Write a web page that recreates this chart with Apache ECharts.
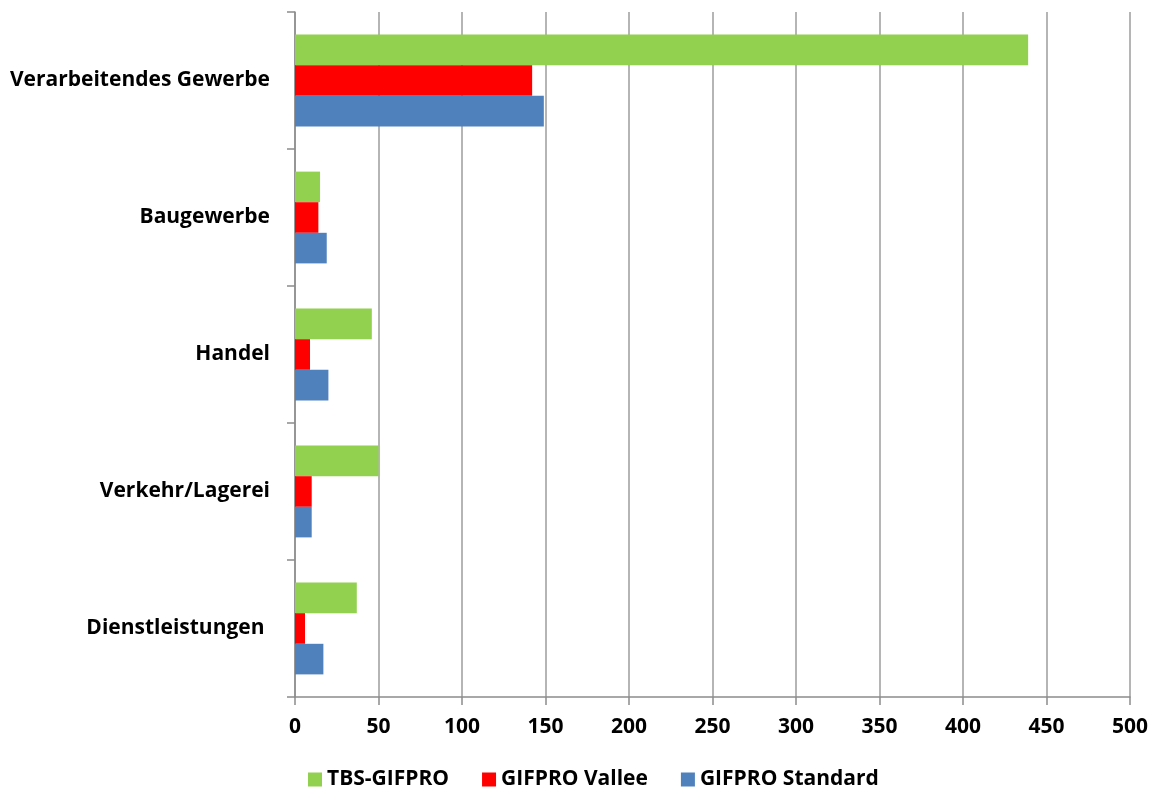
<!DOCTYPE html>
<html>
<head>
<meta charset="utf-8">
<title>Branchen</title>
<script src="https://cdn.jsdelivr.net/npm/echarts@6/dist/echarts.min.js"></script>
<style>
  html, body { margin: 0; padding: 0; background: #ffffff; }
  #chart { width: 1158px; height: 787px; }
</style>
</head>
<body>
<div id="chart"></div>
<script>
// Branchen (von oben nach unten)
const categories = ['Verarbeitendes Gewerbe', 'Baugewerbe', 'Handel', 'Verkehr/Lagerei', 'Dienstleistungen '];

// Werte je Verfahren
const tbsGifpro      = [439, 15, 46, 50, 37];
const gifproVallee   = [142, 14, 9, 10, 6];
const gifproStandard = [149, 19, 20, 10, 17];

const seriesNames = ['TBS-GIFPRO', 'GIFPRO Vallee', 'GIFPRO Standard'];
const seriesColors = ['#92D050', '#FF0000', '#4F81BD'];

const xTicks = { min: 0, max: 500, interval: 50 };

const font = '"Open Sans", Lato, sans-serif';
const chart = echarts.init(document.getElementById('chart'));

const data = [tbsGifpro, gifproVallee, gifproStandard];

chart.setOption({
  animation: false,
  backgroundColor: '#ffffff',
  grid: { left: 295, right: 28, top: 12, bottom: 90, containLabel: false },
  legend: {
    left: 303,
    top: 764,
    itemWidth: 14,
    itemHeight: 14,
    itemGap: 33,
    icon: 'rect',
    data: seriesNames,
    textStyle: { fontFamily: font, fontWeight: 'bold', fontSize: 21, color: '#000' }
  },
  xAxis: {
    type: 'value',
    min: xTicks.min,
    max: xTicks.max,
    interval: xTicks.interval,
    axisLine: { show: true, lineStyle: { color: '#8c8c8c', width: 1.5 } },
    axisTick: { show: true, length: 8, lineStyle: { color: '#8c8c8c', width: 1.5 } },
    axisLabel: { margin: 20, fontFamily: font, fontWeight: 'bold', fontSize: 21, color: '#000' },
    splitLine: { show: true, lineStyle: { color: '#9c9c9c', width: 1.5 } }
  },
  yAxis: {
    type: 'category',
    inverse: true,
    data: categories,
    axisLine: { show: true, lineStyle: { color: '#8c8c8c', width: 1.5 } },
    axisTick: { show: true, length: 8, lineStyle: { color: '#8c8c8c', width: 1.5 } },
    axisLabel: { margin: 25, fontFamily: font, fontWeight: 'bold', fontSize: 21, color: '#000' },
    splitLine: { show: false }
  },
  series: seriesNames.map((name, i) => ({
    name: name,
    type: 'bar',
    data: data[i],
    barGap: '0%',
    barCategoryGap: '33%',
    itemStyle: { color: seriesColors[i] }
  }))
});
</script>
</body>
</html>
